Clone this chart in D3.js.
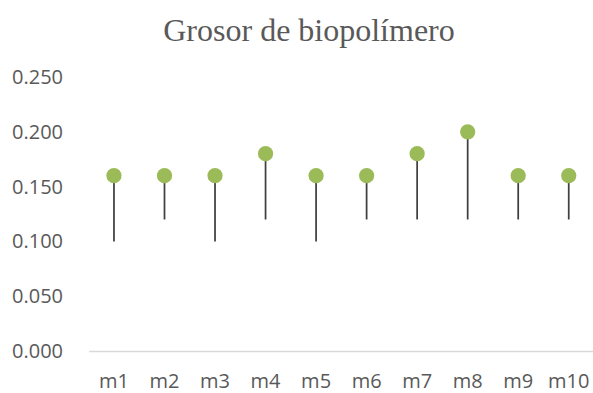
<!DOCTYPE html>
<html>
<head>
<meta charset="utf-8">
<script src="https://cdn.jsdelivr.net/npm/d3@7"></script>
<style>
  html, body { margin: 0; padding: 0; background: #fff; }
  svg { display: block; }
</style>
</head>
<body>
<svg id="chart" width="593" height="393"></svg>
<script>
const categories = ["m1", "m2", "m3", "m4", "m5", "m6", "m7", "m8", "m9", "m10"];
const values = [0.16, 0.16, 0.16, 0.18, 0.16, 0.16, 0.18, 0.20, 0.16, 0.16];
const lowValues = [0.10, 0.12, 0.10, 0.12, 0.10, 0.12, 0.12, 0.12, 0.12, 0.12];
const yTicks = [0, 0.05, 0.10, 0.15, 0.20, 0.25];
const title = "Grosor de biopolímero";

const svg = d3.select("#chart");
const x = d3.scaleBand().domain(categories).range([88.7, 594]).padding(0);
const y = d3.scaleLinear().domain([0, 0.25]).range([351, 77]);

svg.append("text")
  .attr("x", 309).attr("y", 41)
  .attr("text-anchor", "middle")
  .style("font-family", "'Liberation Serif', 'Times New Roman', serif")
  .style("font-size", "32px")
  .style("fill", "#595959")
  .text(title);

// Y axis labels
const yAxis = d3.axisLeft(y).tickValues(yTicks).tickFormat(d3.format(".3f")).tickSize(0).tickPadding(0);
const yg = svg.append("g").attr("transform", "translate(63,0)").call(yAxis);
yg.select(".domain").remove();
yg.selectAll("text")
  .style("font-family", "'Open Sans', sans-serif")
  .style("font-size", "20px")
  .style("fill", "#595959");

// X axis
const xAxis = d3.axisBottom(x).tickSize(0).tickPadding(0);
const xg = svg.append("g").attr("transform", `translate(0,${y(0)})`).call(xAxis);
xg.select(".domain").attr("stroke", "#d9d9d9").attr("stroke-width", 1.5);
xg.selectAll("text")
  .attr("dy", "0")
  .attr("y", 37)
  .style("font-family", "'Open Sans', sans-serif")
  .style("font-size", "20px")
  .style("fill", "#595959");

const data = categories.map((c, i) => ({ c, v: values[i], lo: lowValues[i] }));

svg.append("g").selectAll("line").data(data).join("line")
  .attr("x1", d => x(d.c) + x.bandwidth() / 2)
  .attr("x2", d => x(d.c) + x.bandwidth() / 2)
  .attr("y1", d => y(d.v))
  .attr("y2", d => y(d.lo))
  .attr("stroke", "#404040")
  .attr("stroke-width", 1.75);

svg.append("g").selectAll("circle").data(data).join("circle")
  .attr("cx", d => x(d.c) + x.bandwidth() / 2)
  .attr("cy", d => y(d.v))
  .attr("r", 7.6)
  .attr("fill", "#9BBB59");
</script>
</body>
</html>
